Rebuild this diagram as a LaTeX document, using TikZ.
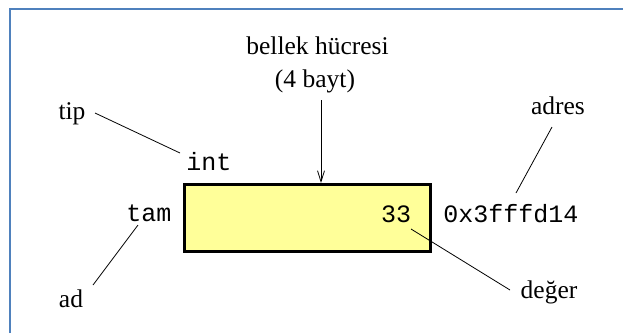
\documentclass[tikz,border=0pt]{standalone}
\usepackage{fontspec}
\setmainfont{Liberation Serif}
\setmonofont{Liberation Mono}
\usetikzlibrary{arrows.meta}
\definecolor{frameblue}{RGB}{79,129,189}
\definecolor{cellyellow}{RGB}{255,255,153}
\tikzset{
  lbl/.style={font=\fontsize{25.5}{28}\selectfont, anchor=base, inner sep=0pt},
  code/.style={font=\fontsize{25}{28}\selectfont\ttfamily, anchor=base, inner sep=0pt},
  conn/.style={line width=0.8pt, black},
}
\begin{document}
\begin{tikzpicture}[x=1pt,y=-1pt]
\useasboundingbox (0,0) rectangle (623,333);
\fill[white] (0,0) rectangle (623,333);
% frame (top and left edges only)
\draw[frameblue, line width=2pt] (10,333) -- (10,9) -- (623,9);
% memory cell
\node[draw=black, line width=2.6pt, fill=cellyellow, minimum width=246pt, minimum height=67pt, inner sep=0pt, anchor=north west] (cell) at (183,183) {};
% labels
\node[lbl] (bellek) at (317.5,54) {bellek hücresi};
\node[lbl] (bayt) at (315,87.5) {(4 bayt)};
\node[lbl] (tip) at (72,119) {tip};
\node[lbl] (ad) at (71,307) {ad};
\node[lbl] (adres) at (558,114) {adres};
\node[lbl] (deger) at (549,298) {değer};
\node[code] (int) at (209,170) {int};
\node[code] (tam) at (149,221) {tam};
\node[code] (val) at (396,222) {33};
\node[code] (addr) at (511,222) {0x3fffd14};
% connector end points
\coordinate (tipA) at (95,113);
\coordinate (tipB) at (180,153);
\coordinate (adA) at (138,225);
\coordinate (adB) at (93,285);
\coordinate (adrA) at (552,127);
\coordinate (adrB) at (516,193);
\coordinate (degA) at (411,229);
\coordinate (degB) at (510,290);
\coordinate (arrA) at (321,100);
% connectors
\draw[conn] (tipA) -- (tipB);
\draw[conn] (adA) -- (adB);
\draw[conn] (adrA) -- (adrB);
\draw[conn] (degA) -- (degB);
\draw[conn, -{Straight Barb[length=11pt,width=7pt,line width=0.8pt]}] (arrA) -- (arrA |- cell.north);
\end{tikzpicture}
\end{document}
